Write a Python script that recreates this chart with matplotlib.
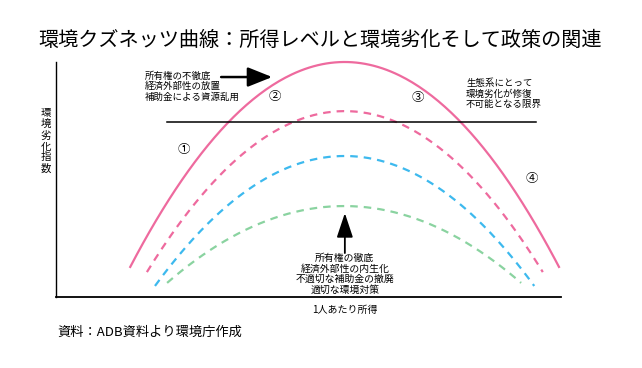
import numpy as np
import matplotlib
matplotlib.use("Agg")
import matplotlib.pyplot as plt

plt.rcParams['font.family'] = ['Noto Sans CJK JP', 'DejaVu Sans']

# curve parameters (x: income 0-100, y: degradation 0-100)
curve_names = ["現状", "対策1", "対策2", "対策3"]
curve_start = [14.7, 18.0, 19.6, 22.0]
curve_end = [99.6, 96.4, 94.7, 92.1]
curve_peak = [100.0, 79.1, 60.0, 38.7]
curve_end_y = [12.8, 10.6, 4.7, 6.0]
curve_colors = ["#EE6A9E", "#EE6A9E", "#3DB9EE", "#8AD3A0"]
curve_dashed = [False, True, True, True]

limit_y = 74.5
limit_x = [22.0, 95.0]

title = "環境クズネッツ曲線：所得レベルと環境劣化そして政策の関連"
xlabel = "1人あたり所得"
ylabel = "環境劣化指数"
source = "資料：ADB資料より環境庁作成"
note_left = "所有権の不徹底\n経済外部性の放置\n補助金による資源乱用"
note_right = "生態系にとって\n環境劣化が修復\n不可能となる限界"
note_bottom = "所有権の徹底\n経済外部性の内生化\n不適切な補助金の撤廃\n適切な環境対策"
stage_labels = ["①", "②", "③", "④"]
stage_x = [25.3, 43.4, 71.7, 94.3]
stage_y = [62.6, 85.5, 85.1, 50.6]

W, H = 642, 368
fig = plt.figure(figsize=(W / 100, H / 100), dpi=100)
ax = fig.add_axes([56 / W, (H - 297) / H, (561 - 56) / W, (297 - 62) / H])
ax.set_xlim(0, 100)
ax.set_ylim(0, 100)
for side in ["top", "right"]:
    ax.spines[side].set_visible(False)
ax.spines["left"].set_linewidth(1.0)
ax.spines["bottom"].set_linewidth(1.3)
ax.set_xticks([])
ax.set_yticks([])

# inverted-U curves
for i in range(len(curve_names)):
    c = (curve_start[i] + curve_end[i]) / 2
    k = (curve_peak[i] - curve_end_y[i]) / (c - curve_start[i]) ** 2
    xs = np.linspace(curve_start[i], curve_end[i], 200)
    ys = curve_peak[i] - k * (xs - c) ** 2
    if curve_dashed[i]:
        ax.plot(xs, ys, color=curve_colors[i], lw=1.6, dashes=(3.4, 2.7), clip_on=False)
    else:
        ax.plot(xs, ys, color=curve_colors[i], lw=1.6, clip_on=False)

# ecological limit line
ax.plot(limit_x, [limit_y, limit_y], color="black", lw=1.1)

# arrows
ax.annotate("", xy=(42.8, 93.6), xytext=(32.7, 93.6),
            arrowprops=dict(arrowstyle="-|>,head_length=0.75,head_width=0.3",
                            mutation_scale=20, lw=1.8, color="black", shrinkA=0, shrinkB=0))
ax.annotate("", xy=(57.2, 35.7), xytext=(57.2, 18.7),
            arrowprops=dict(arrowstyle="-|>,head_length=0.75,head_width=0.25",
                            mutation_scale=20, lw=1.3, color="black", shrinkA=0, shrinkB=0))

# annotations
ax.text(17.6, 96.2, note_left, fontsize=6.8, va="top", ha="left", linespacing=1.15)
ax.text(81.2, 93.0, note_right, fontsize=6.8, va="top", ha="left", linespacing=1.18)
ax.text(57.2, 18.9, note_bottom, fontsize=7.1, va="top", ha="center", linespacing=1.1)
for lab, x, y in zip(stage_labels, stage_x, stage_y):
    ax.text(x, y, lab, fontsize=9, ha="center", va="center")

fig.text(320 / W, 1 - 40 / H, title, fontsize=14.5, ha="center", va="center")
fig.text(345 / W, 1 - 310 / H, xlabel, fontsize=7.2, ha="center", va="center")
fig.text(45.5 / W, 1 - 141 / H, "\n".join(ylabel), fontsize=7.5, ha="center", va="center",
         linespacing=1.12)
fig.text(57 / W, 1 - 332 / H, source, fontsize=9.5, ha="left", va="center")

fig.savefig("out.png", dpi=100)
